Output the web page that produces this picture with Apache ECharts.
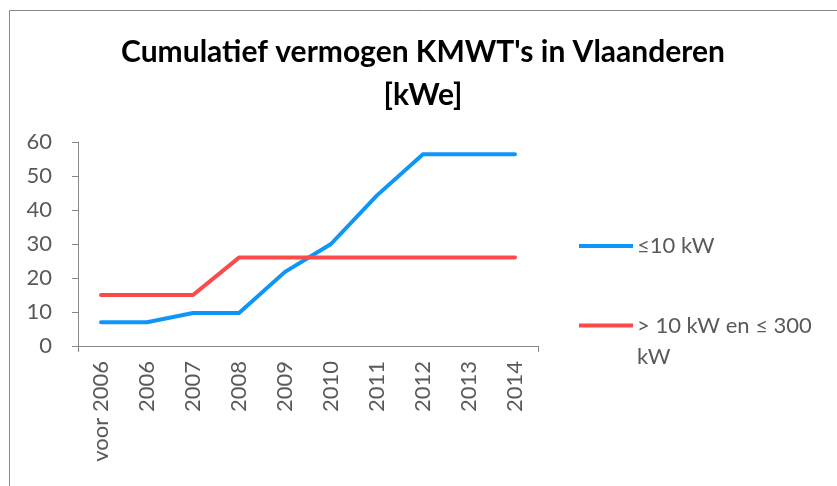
<!DOCTYPE html>
<html>
<head>
<meta charset="utf-8">
<script src="https://cdn.jsdelivr.net/npm/echarts@6/dist/echarts.min.js"></script>
<style>
  html, body { margin: 0; padding: 0; background: #ffffff; }
  #chart { width: 837px; height: 486px; }
</style>
</head>
<body>
<div id="chart"></div>
<script>
// Categories on the horizontal axis
const years = ['voor 2006', '2006', '2007', '2008', '2009', '2010', '2011', '2012', '2013', '2014'];

// Cumulative installed capacity per size class [kWe]
const smallName = '≤10 kW';
const smallValues = [7, 7, 9.7, 9.7, 21.8, 30, 44.3, 56.4, 56.4, 56.4];

const mediumName = '> 10 kW en ≤ 300 kW';
const mediumValues = [15, 15, 15, 26, 26, 26, 26, 26, 26, 26];

// Value axis range
const yMin = 0;
const yMax = 60;
const yStep = 10;

const labelFont = 'Lato, "Open Sans", sans-serif';
const textGrey = '#595959';
const axisGrey = '#868686';
const blue = '#0d96f8';
const red = '#fa4a4a';

const chart = echarts.init(document.getElementById('chart'), null, { renderer: 'canvas' });

chart.setOption({
  animation: false,
  backgroundColor: '#ffffff',
  title: {
    text: 'Cumulatief vermogen KMWT\'s in Vlaanderen\n[kWe]',
    left: 423,
    textAlign: 'center',
    top: 31,
    padding: 0,
    textStyle: {
      fontFamily: labelFont,
      fontWeight: 'bold',
      fontSize: 30,
      lineHeight: 43,
      color: '#000000'
    }
  },
  graphic: [{
    type: 'rect',
    shape: { x: 9.5, y: 10.5, width: 900, height: 600 },
    style: { fill: 'none', stroke: axisGrey, lineWidth: 1 },
    silent: true,
    z: -10
  }],
  legend: [{
    data: [smallName],
    orient: 'vertical',
    left: 579,
    top: 233,
    padding: 0,
    itemWidth: 54,
    itemHeight: 4,
    icon: 'rect',
    textStyle: { fontFamily: labelFont, fontSize: 22, lineHeight: 26, color: textGrey, padding: [0, 0, 0, -1] }
  }, {
    data: [mediumName],
    orient: 'vertical',
    left: 579,
    top: 279,
    padding: 0,
    itemWidth: 54,
    itemHeight: 4,
    icon: 'rect',
    // leading empty line keeps the first text line level with the swatch
    formatter: function () { return '\n> 10 kW en ≤ 300\nkW'; },
    textStyle: { fontFamily: labelFont, fontSize: 22, lineHeight: 31, color: textGrey, padding: [0, 0, 0, -1] }
  }],
  grid: {
    left: 78,
    right: 299,
    top: 142,
    bottom: 140,
    containLabel: false
  },
  xAxis: [{
    type: 'category',
    data: years,
    boundaryGap: true,
    axisLine: { lineStyle: { color: axisGrey, width: 1 } },
    axisTick: { alignWithLabel: true, length: 6, lineStyle: { color: axisGrey } },
    axisLabel: {
      rotate: 90,
      interval: 0,
      margin: 15,
      fontFamily: labelFont,
      fontSize: 22,
      color: textGrey
    }
  }, {
    // end ticks at both ends of the category axis
    type: 'value',
    position: 'bottom',
    min: 0,
    max: 10,
    interval: 10,
    axisLine: { show: false },
    axisTick: { show: true, length: 6, lineStyle: { color: axisGrey } },
    axisLabel: { show: false },
    splitLine: { show: false }
  }],
  yAxis: {
    type: 'value',
    min: yMin,
    max: yMax,
    interval: yStep,
    axisLine: { show: true, lineStyle: { color: axisGrey, width: 1 } },
    axisTick: { show: true, length: 6, lineStyle: { color: axisGrey } },
    splitLine: { show: false },
    axisLabel: {
      margin: 26,
      fontFamily: labelFont,
      fontSize: 22,
      color: textGrey
    }
  },
  series: [{
    name: smallName,
    type: 'line',
    data: smallValues,
    showSymbol: false,
    symbol: 'none',
    lineStyle: { color: blue, width: 4, cap: 'round', join: 'round' },
    itemStyle: { color: blue },
    z: 2
  }, {
    name: mediumName,
    type: 'line',
    data: mediumValues,
    showSymbol: false,
    symbol: 'none',
    lineStyle: { color: red, width: 4, cap: 'round', join: 'round' },
    itemStyle: { color: red },
    z: 3
  }]
});
</script>
</body>
</html>
